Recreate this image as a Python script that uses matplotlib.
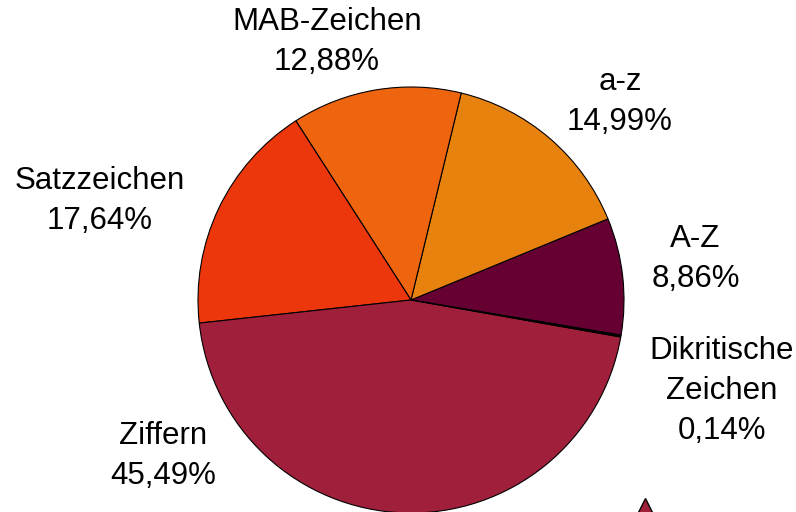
import matplotlib
matplotlib.use("Agg")
import matplotlib.pyplot as plt
import numpy as np

# data (counterclockwise from A-Z)
kategorien = ["A-Z", "a-z", "MAB-Zeichen", "Satzzeichen", "Ziffern", "Dikritische\nZeichen"]
anteile = [8.86, 14.99, 12.88, 17.64, 45.49, 0.14]
farben = ["#660033", "#E8820E", "#EF640F", "#EC360C", "#A0203C", "#000000"]

# label positions (data units, pie radius = 1)
label_pos = [(1.336, 0.192), (0.981, 0.930), (-0.394, 1.211),
             (-1.460, 0.465), (-1.164, -0.732), (1.460, -0.427)]

plt.rcParams['font.family'] = ['Liberation Sans', 'DejaVu Sans']

fig = plt.figure(figsize=(7.96, 5.12), dpi=100)
ax = fig.add_axes([0, 0, 1, 1])

wedges, _ = ax.pie(anteile, colors=farben, startangle=-9.5, counterclock=True,
                   radius=1.0, center=(0, 0),
                   wedgeprops=dict(edgecolor="black", linewidth=0.8))

for name, val, (x, y) in zip(kategorien, anteile, label_pos):
    txt = name + "\n" + f"{val:.2f}".replace(".", ",") + "%"
    ax.text(x, y, txt, ha="center", va="center", fontsize=22.5,
            linespacing=1.45, color="black")

# small marker cut off at the bottom edge
ax.plot([1.099], [-0.985], marker="^", markersize=17, markerfacecolor="#A0203C",
        markeredgecolor="black", markeredgewidth=1.0, clip_on=True)

ax.set_xlim(-411 / 213, 385 / 213)
ax.set_ylim((300 - 512) / 213, 300 / 213)
ax.set_aspect("equal")
ax.axis("off")

fig.savefig("out.png", dpi=100)
